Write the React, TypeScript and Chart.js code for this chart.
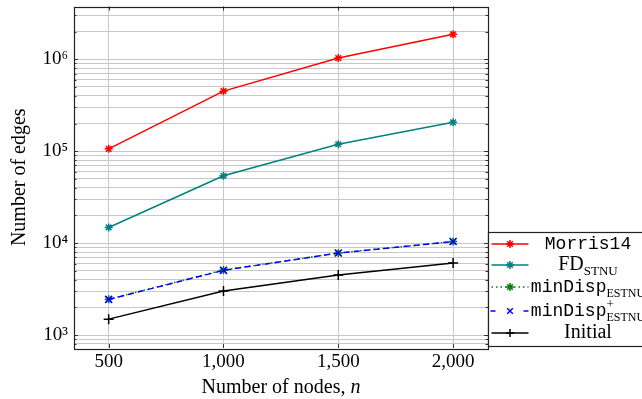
import React, { useEffect, useRef } from 'react';
import { Chart, registerables } from 'chart.js';

Chart.register(...registerables);

// ---- data ----
const NODES = [500, 1000, 1500, 2000];
const MORRIS14 = [1.06e5, 4.5e5, 1.03e6, 1.87e6];
const FD_STNU = [1.48e4, 5.4e4, 1.19e5, 2.06e5];
const MINDISP = [2.45e3, 5.1e3, 7.8e3, 1.04e4];
const MINDISP_PLUS = [2.44e3, 5.06e3, 7.8e3, 1.04e4];
const INITIAL = [1.49e3, 3.02e3, 4.5e3, 6.07e3];

const X_TICKS = [500, 1000, 1500, 2000];
const X_TICK_LABELS = ['500', '1,000', '1,500', '2,000'];
const Y_MAJOR = [1e3, 1e4, 1e5, 1e6];
const Y_MAJOR_LABELS = ['10³', '10⁴', '10⁵', '10⁶'];
const Y_GRID = [
  800, 900,
  1000, 2000, 3000, 4000, 5000, 6000, 7000, 8000, 9000,
  10000, 20000, 30000, 40000, 50000, 60000, 70000, 80000, 90000,
  100000, 200000, 300000, 400000, 500000, 600000, 700000, 800000, 900000,
  1000000, 2000000, 3000000,
];

const SERIF = '"Liberation Serif", "Times New Roman", serif';
const MONO = '"Liberation Mono", "DejaVu Sans Mono", monospace';

type Seg = { t: string; f: string; dy?: number; sup?: string; supF?: string; supDy?: number };
type LegendRow = { color: string; dash: number[]; marker: string; segs: Seg[] };

const LEGEND_ROWS: LegendRow[] = [
  { color: '#ff0000', dash: [], marker: 'star', segs: [{ t: 'Morris14', f: `18px ${MONO}` }] },
  { color: '#008080', dash: [], marker: 'star', segs: [{ t: 'FD', f: `20px ${SERIF}` }, { t: 'STNU', f: `13px ${SERIF}`, dy: 5 }] },
  { color: '#008000', dash: [1.5, 3], marker: 'star', segs: [{ t: 'minDisp', f: `18px ${MONO}` }, { t: 'ESTNU', f: `12px ${SERIF}`, dy: 5 }] },
  { color: '#0000ff', dash: [5, 4], marker: 'crossRot', segs: [{ t: 'minDisp', f: `18px ${MONO}` }, { t: 'ESTNU', f: `12px ${SERIF}`, dy: 5, sup: '+', supF: `13px ${SERIF}`, supDy: -8 }] },
  { color: '#000000', dash: [], marker: 'cross', segs: [{ t: 'Initial', f: `20px ${SERIF}` }] },
];

function drawMarker(ctx: CanvasRenderingContext2D, style: string, x: number, y: number, r: number) {
  ctx.beginPath();
  if (style === 'cross' || style === 'star') {
    ctx.moveTo(x - r, y); ctx.lineTo(x + r, y);
    ctx.moveTo(x, y - r); ctx.lineTo(x, y + r);
  }
  if (style === 'crossRot' || style === 'star') {
    const d = r * 0.7071;
    ctx.moveTo(x - d, y - d); ctx.lineTo(x + d, y + d);
    ctx.moveTo(x - d, y + d); ctx.lineTo(x + d, y - d);
  }
  ctx.stroke();
}

const decorPlugin = {
  id: 'decor',
  afterDraw(chart: any) {
    const ctx: CanvasRenderingContext2D = chart.ctx;
    const { left, right, top, bottom } = chart.chartArea;
    const xs = chart.scales.x;
    const ys = chart.scales.y;
    ctx.save();
    // inward tick marks
    ctx.strokeStyle = '#333';
    ctx.lineWidth = 1;
    ctx.beginPath();
    for (const v of Y_GRID) {
      const y = Math.round(ys.getPixelForValue(v)) + 0.5;
      const len = Y_MAJOR.includes(v) ? 4 : 2.5;
      ctx.moveTo(left, y); ctx.lineTo(left + len, y);
      ctx.moveTo(right, y); ctx.lineTo(right - len, y);
    }
    for (const v of X_TICKS) {
      const x = Math.round(xs.getPixelForValue(v)) + 0.5;
      ctx.moveTo(x, bottom); ctx.lineTo(x, bottom - 4);
      ctx.moveTo(x, top); ctx.lineTo(x, top + 4);
    }
    ctx.stroke();
    // frame
    ctx.strokeStyle = '#222';
    ctx.lineWidth = 1.2;
    ctx.strokeRect(Math.round(left) + 0.5, Math.round(top) + 0.5, Math.round(right - left), Math.round(bottom - top));

    // axis titles
    ctx.fillStyle = '#000';
    ctx.textBaseline = 'alphabetic';
    const t1 = 'Number of nodes, ';
    ctx.font = `20px ${SERIF}`;
    const w1 = ctx.measureText(t1).width;
    ctx.font = `italic 20px ${SERIF}`;
    const w2 = ctx.measureText('n').width;
    const cx = (left + right) / 2;
    const sx = cx - (w1 + w2) / 2;
    ctx.font = `20px ${SERIF}`;
    ctx.textAlign = 'left';
    ctx.fillText(t1, sx, 393);
    ctx.font = `italic 20px ${SERIF}`;
    ctx.fillText('n', sx + w1, 393);

    ctx.save();
    ctx.translate(20, (top + bottom) / 2);
    ctx.rotate(-Math.PI / 2);
    ctx.font = `20px ${SERIF}`;
    ctx.textAlign = 'center';
    ctx.textBaseline = 'middle';
    ctx.fillText('Number of edges', 0, 0);
    ctx.restore();

    // legend
    const lx = Math.round(right) + 0.5;
    const ly = 232.5;
    const lb = 346.5;
    ctx.fillStyle = '#fff';
    ctx.fillRect(lx, ly, 200, lb - ly);
    ctx.strokeStyle = '#222';
    ctx.lineWidth = 1.2;
    ctx.strokeRect(lx, ly, 200, lb - ly);
    const rowsY = [244, 265, 287, 311, 333];
    LEGEND_ROWS.forEach((row, i) => {
      const y = rowsY[i];
      ctx.strokeStyle = row.color;
      ctx.lineWidth = 1.5;
      ctx.setLineDash(row.dash);
      ctx.beginPath();
      if (row.marker === 'crossRot') {
        ctx.moveTo(lx + 2, y); ctx.lineTo(lx + 8, y);
        ctx.moveTo(lx + 35, y); ctx.lineTo(lx + 41, y);
      } else {
        ctx.moveTo(lx + 3, y); ctx.lineTo(lx + 40, y);
      }
      ctx.stroke();
      ctx.setLineDash([]);
      drawMarker(ctx, row.marker, lx + 21.5, y, 4);
      // text
      ctx.fillStyle = '#000';
      ctx.textAlign = 'left';
      ctx.textBaseline = 'alphabetic';
      let total = 0;
      const widths = row.segs.map((s) => {
        ctx.font = s.f;
        const w = ctx.measureText(s.t).width;
        total += w;
        return w;
      });
      let x = 588 - total / 2;
      const base = y + 5;
      row.segs.forEach((s, k) => {
        ctx.font = s.f;
        ctx.fillText(s.t, x, base + (s.dy || 0));
        if (s.sup) {
          ctx.font = s.supF || s.f;
          ctx.fillText(s.sup, x, base + (s.supDy || 0));
        }
        x += widths[k];
      });
    });
    ctx.restore();
  },
};

function series(vals: number[]) {
  return NODES.map((x, i) => ({ x, y: vals[i] }));
}

export default function App() {
  const ref = useRef<HTMLCanvasElement | null>(null);
  useEffect(() => {
    if (!ref.current) return;
    const common = { borderWidth: 1.5, pointRadius: 4, pointBorderWidth: 1.5, pointHoverRadius: 4, tension: 0, fill: false };
    const chart = new Chart(ref.current, {
      type: 'line',
      data: {
        datasets: [
          { ...common, label: 'Morris14', data: series(MORRIS14), borderColor: '#ff0000', backgroundColor: '#ff0000', pointStyle: 'star', order: 0 },
          { ...common, label: 'FD_STNU', data: series(FD_STNU), borderColor: '#008080', backgroundColor: '#008080', pointStyle: 'star', order: 0 },
          { ...common, label: 'minDisp_ESTNU', data: series(MINDISP), borderColor: '#008000', backgroundColor: '#008000', borderDash: [1.5, 3], pointStyle: 'star', order: 2 },
          { ...common, label: 'minDisp+_ESTNU', data: series(MINDISP_PLUS), borderColor: '#0000ff', backgroundColor: '#0000ff', borderDash: [6, 4], pointStyle: 'crossRot', pointRadius: 5, order: 1 },
          { ...common, label: 'Initial', data: series(INITIAL), borderColor: '#000000', backgroundColor: '#000000', pointStyle: 'cross', pointRadius: 5, order: 0 },
        ] as any,
      },
      options: {
        animation: false,
        responsive: true,
        maintainAspectRatio: false,
        events: [],
        layout: { padding: { top: 5, right: 154, left: 0, bottom: 0 } },
        plugins: { legend: { display: false }, tooltip: { enabled: false } },
        scales: {
          x: {
            type: 'linear',
            min: 349,
            max: 2152,
            afterBuildTicks: (s: any) => { s.ticks = X_TICKS.map((v) => ({ value: v })); },
            afterFit: (s: any) => { s.height = 51; s.paddingLeft = 0; s.paddingRight = 0; },
            grid: { color: '#c8c8c8', lineWidth: 1, drawTicks: false },
            border: { display: false },
            ticks: {
              autoSkip: false,
              maxRotation: 0,
              padding: 3,
              color: '#000',
              font: { family: SERIF, size: 19 },
              callback: (v: any) => { const i = X_TICKS.indexOf(Number(v)); return i >= 0 ? X_TICK_LABELS[i] : ''; },
            },
          },
          y: {
            type: 'logarithmic',
            min: 723,
            max: 3.75e6,
            afterBuildTicks: (s: any) => { s.ticks = Y_GRID.map((v) => ({ value: v, major: Y_MAJOR.includes(v) })); },
            afterFit: (s: any) => { s.width = 74; s.paddingTop = 0; s.paddingBottom = 0; },
            grid: { color: '#c8c8c8', lineWidth: 1, drawTicks: false },
            border: { display: false },
            ticks: {
              autoSkip: false,
              padding: 6,
              color: '#000',
              font: { family: SERIF, size: 19 },
              callback: (v: any) => { const i = Y_MAJOR.indexOf(Number(v)); return i >= 0 ? Y_MAJOR_LABELS[i] : ''; },
            },
          },
        },
      } as any,
      plugins: [decorPlugin],
    });
    return () => chart.destroy();
  }, []);
  return (
    <div style={{ position: 'fixed', left: 0, top: 0, width: 642, height: 399, background: '#fff' }}>
      <canvas ref={ref} />
    </div>
  );
}
